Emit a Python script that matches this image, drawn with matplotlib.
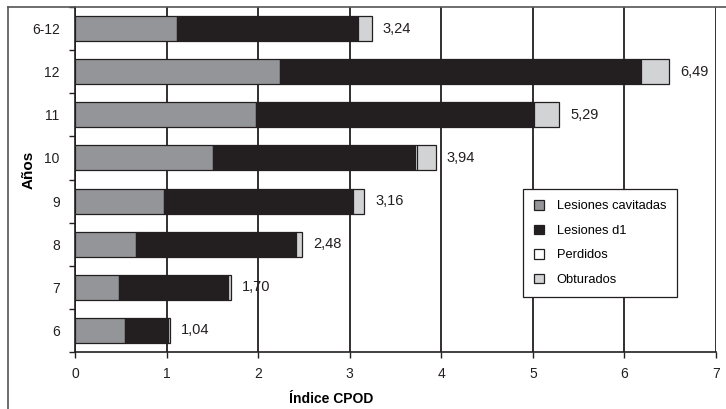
import numpy as np
import matplotlib.pyplot as plt
from matplotlib.lines import Line2D

plt.rcParams['font.family'] = ['Liberation Sans', 'DejaVu Sans']

# data, bottom row first
edades = ['6', '7', '8', '9', '10', '11', '12', '6-12']
cavitadas = [0.55, 0.48, 0.67, 0.97, 1.51, 1.98, 2.24, 1.11]
d1 = [0.47, 1.18, 1.74, 2.07, 2.20, 3.03, 3.94, 1.98]
perdidos = [0.00, 0.01, 0.00, 0.00, 0.03, 0.00, 0.00, 0.00]
obturados = [0.02, 0.03, 0.07, 0.12, 0.20, 0.28, 0.31, 0.15]
totales = [1.04, 1.70, 2.48, 3.16, 3.94, 5.29, 6.49, 3.24]

series = [cavitadas, d1, perdidos, obturados]
nombres = ['Lesiones cavitadas', 'Lesiones d1', 'Perdidos', 'Obturados']
colores = ['#939598', '#231f20', '#ffffff', '#d1d3d4']
borde = '#231f20'

fig = plt.figure(figsize=(7.26, 4.09), dpi=100)
ax = fig.add_axes([75/726, 1-352/409, 641/726, 345/409])

y = np.arange(len(edades))
left = np.zeros(len(edades))
for vals, nom, col in zip(series, nombres, colores):
    ax.barh(y, vals, left=left, height=0.58, color=col, edgecolor=borde,
            linewidth=0.9, label=nom, zorder=3)
    left += np.array(vals)

for yi, t in zip(y, totales):
    ax.text(t + 0.12, yi, f'{t:.2f}'.replace('.', ','), va='center',
            ha='left', fontsize=10.5, color='#231f20', zorder=4)

ax.set_xlim(0, 7)
ax.set_ylim(-0.5, len(edades) - 0.5)
ax.set_xticks(range(8))
ax.set_yticks(y)
ax.set_yticklabels(edades)
ax.set_yticks(np.arange(-0.5, len(edades), 1), minor=True)
ax.tick_params(axis='y', which='major', length=0, pad=11, labelsize=10,
               colors='#231f20')
ax.tick_params(axis='y', which='minor', length=4, width=1, direction='out',
               color='#231f20')
ax.tick_params(axis='x', length=4, width=1, direction='out', pad=7,
               labelsize=10, colors='#231f20')

ax.grid(axis='x', color='#231f20', linewidth=1.3, zorder=0)
for s in ['top', 'right']:
    ax.spines[s].set_visible(False)
for s in ['left', 'bottom']:
    ax.spines[s].set_color('#231f20')
    ax.spines[s].set_linewidth(1.2)

ax.set_xlabel('Índice CPOD', fontweight='bold', fontsize=10, labelpad=9)
ax.xaxis.set_label_coords(0.40, -0.115)
ax.set_ylabel('Años', fontweight='bold', fontsize=11, labelpad=10)
ax.yaxis.set_label_coords(-0.062, 0.528)

leg = ax.legend(loc='upper left', bbox_to_anchor=(0.699, 0.472),
                borderaxespad=0, fancybox=False, framealpha=1,
                edgecolor='#231f20', fontsize=9.3, handlelength=0.75,
                handleheight=0.75, labelspacing=0.95, handletextpad=1.0,
                borderpad=0.85)
leg.get_frame().set_linewidth(0.9)
leg.set_zorder(5)

# outer frame
fig.add_artist(Line2D([8/726, 1], [1-7/409, 1-7/409], color='#555555',
                      linewidth=1.2, transform=fig.transFigure))
fig.add_artist(Line2D([8/726, 8/726], [0, 1-7/409], color='#555555',
                      linewidth=1.2, transform=fig.transFigure))

plt.savefig('out.png', dpi=100)
